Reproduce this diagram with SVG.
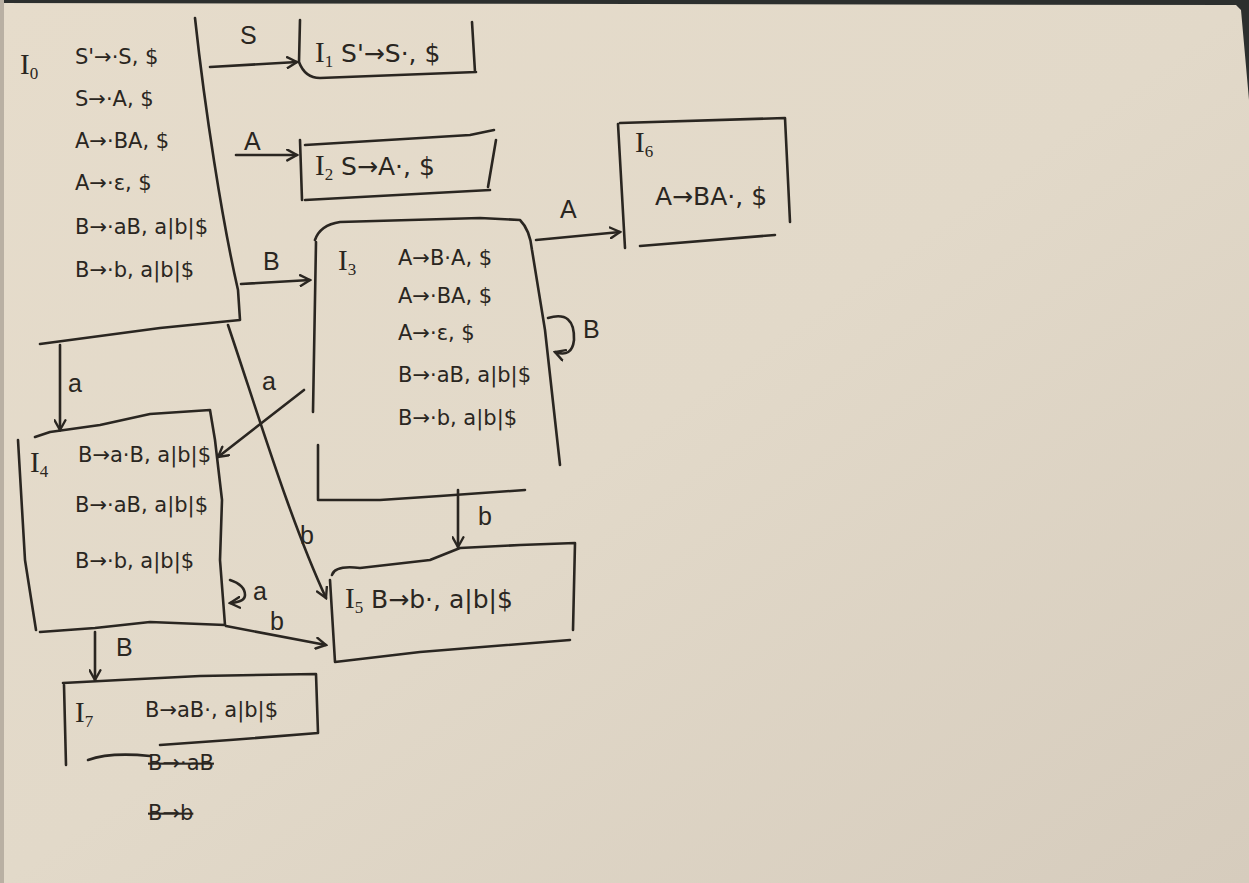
<svg xmlns="http://www.w3.org/2000/svg" width="1249" height="883" viewBox="0 0 1249 883">
<style>
.ink{fill:none;stroke:#2a2621;stroke-width:2.6;stroke-linecap:round;stroke-linejoin:round}
.t{font-family:"DejaVu Sans","Liberation Sans",sans-serif;font-size:21px;fill:#2a2621}
.big{font-size:25px}
.id{font-family:"Liberation Serif","DejaVu Serif",serif;font-size:29px;fill:#2a2621}
.lb{font-family:"Liberation Sans","DejaVu Sans",sans-serif;font-size:25px;fill:#2a2621}
.strike{text-decoration:line-through}
</style>
<defs>
<linearGradient id="paper" x1="0" y1="0" x2="1" y2="1">
<stop offset="0" stop-color="#e6dccb"/>
<stop offset="0.5" stop-color="#e2d9c9"/>
<stop offset="1" stop-color="#d6ccbd"/>
</linearGradient>
<marker id="ah" viewBox="0 0 12 12" refX="10" refY="6" markerWidth="13" markerHeight="13" markerUnits="userSpaceOnUse" orient="auto">
<path d="M1,1 L10,6 L1,11" fill="none" stroke="#2a2621" stroke-width="2.2" stroke-linecap="round"/>
</marker>
</defs>
<rect width="1249" height="883" fill="url(#paper)"/>
<path d="M0,0 H1249 V100 L1241,10 L1236,5 L0,3 Z" fill="#2c2f2e"/>
<rect x="0" y="0" width="4" height="883" fill="#b9b0a3"/>

<g id="I0">
<path class="ink" d="M195,18 C205,110 222,220 238,290 L240,320 L160,328 L40,344"/>
<text class="id" x="20" y="74">I<tspan font-size="17" dy="5">0</tspan></text>
<text class="t" x="75" y="64">S'→·S, $</text>
<text class="t" x="75" y="106">S→·A, $</text>
<text class="t" x="75" y="148">A→·BA, $</text>
<text class="t" x="75" y="190">A→·ε, $</text>
<text class="t" x="75" y="234">B→·aB, a|b|$</text>
<text class="t" x="75" y="277">B→·b, a|b|$</text>
</g>

<g id="I1">
<path class="ink" d="M300,20 L299,62 Q305,78 320,78 L476,72 M472,22 L475,72"/>
<text class="t big" x="315" y="62"><tspan class="id">I</tspan><tspan font-family="Liberation Serif" font-size="17" dy="5">1</tspan><tspan dy="-5">  S'→S·, $</tspan></text>
</g>

<g id="I2">
<path class="ink" d="M300,140 L302,200 M305,145 L470,135 L494,130 M496,140 L488,187 M305,200 L490,190"/>
<text class="t big" x="315" y="175"><tspan class="id">I</tspan><tspan font-family="Liberation Serif" font-size="17" dy="5">2</tspan><tspan dy="-5">  S→A·, $</tspan></text>
</g>

<g id="I3">
<path class="ink" d="M315,240 Q320,225 340,222 L480,218 L520,220 Q530,230 532,250 L545,330 L555,420 L560,465 M316,242 L313,412 M318,445 L318,500 L380,500 L440,496 L525,490"/>
<text class="id" x="338" y="270">I<tspan font-size="17" dy="5">3</tspan></text>
<text class="t" x="398" y="265">A→B·A, $</text>
<text class="t" x="398" y="303">A→·BA, $</text>
<text class="t" x="398" y="340">A→·ε, $</text>
<text class="t" x="398" y="382">B→·aB, a|b|$</text>
<text class="t" x="398" y="425">B→·b, a|b|$</text>
</g>

<g id="I4">
<path class="ink" d="M35,437 L50,432 L100,425 L150,414 L210,410 L215,440 L222,500 L220,560 L225,625 L150,622 L95,628 L40,632 M18,440 L25,560 L36,630"/>
<text class="id" x="30" y="472">I<tspan font-size="17" dy="5">4</tspan></text>
<text class="t" x="78" y="462">B→a·B, a|b|$</text>
<text class="t" x="75" y="512">B→·aB, a|b|$</text>
<text class="t" x="75" y="568">B→·b, a|b|$</text>
</g>

<g id="I5">
<path class="ink" d="M332,575 Q335,565 360,568 L430,560 L460,548 L520,545 L575,543 L573,630 M330,580 L335,662 L420,652 L570,640"/>
<text class="t big" x="345" y="608"><tspan class="id">I</tspan><tspan font-family="Liberation Serif" font-size="17" dy="5">5</tspan><tspan dy="-5">  B→b·, a|b|$</tspan></text>
</g>

<g id="I6">
<path class="ink" d="M618,124 L625,248 M620,123 L785,118 L790,222 M640,246 L775,235"/>
<text class="id" x="635" y="152">I<tspan font-size="17" dy="5">6</tspan></text>
<text class="t big" x="655" y="205">A→BA·, $</text>
</g>

<g id="I7">
<path class="ink" d="M63,683 L120,680 L200,676 L316,674 L318,733 L230,740 L160,745 M64,685 L66,765"/>
<text class="id" x="75" y="722">I<tspan font-size="17" dy="5">7</tspan></text>
<text class="t" x="145" y="717">B→aB·, a|b|$</text>
<text class="t strike" x="148" y="770">B→·aB</text>
<text class="t strike" x="148" y="820">B→b</text>
<path class="ink" d="M88,760 Q110,752 150,756"/>
</g>

<g id="connectors">
<path class="ink" marker-end="url(#ah)" d="M210,67 L297,62"/>
<text class="lb" x="240" y="44">S</text>
<path class="ink" marker-end="url(#ah)" d="M236,155 L297,155"/>
<text class="lb" x="244" y="150">A</text>
<path class="ink" marker-end="url(#ah)" d="M241,284 L310,280"/>
<text class="lb" x="263" y="270">B</text>
<path class="ink" marker-end="url(#ah)" d="M536,240 L620,232"/>
<text class="lb" x="560" y="218">A</text>
<path class="ink" marker-end="url(#ah)" d="M548,318 Q575,310 574,340 Q572,358 555,352"/>
<text class="lb" x="583" y="338">B</text>
<path class="ink" marker-end="url(#ah)" d="M60,345 L60,430"/>
<text class="lb" x="68" y="392">a</text>
<path class="ink" marker-end="url(#ah)" d="M304,390 L218,457"/>
<text class="lb" x="262" y="390">a</text>
<path class="ink" marker-end="url(#ah)" d="M228,325 C260,420 290,520 326,598"/>
<text class="lb" x="300" y="544">b</text>
<path class="ink" marker-end="url(#ah)" d="M458,490 L458,547"/>
<text class="lb" x="478" y="525">b</text>
<path class="ink" marker-end="url(#ah)" d="M230,580 Q245,585 245,595 Q245,602 230,603"/>
<text class="lb" x="253" y="600">a</text>
<path class="ink" marker-end="url(#ah)" d="M226,626 L326,645"/>
<text class="lb" x="270" y="630">b</text>
<path class="ink" marker-end="url(#ah)" d="M95,632 L95,680"/>
<text class="lb" x="116" y="656">B</text>
</g>
</svg>
